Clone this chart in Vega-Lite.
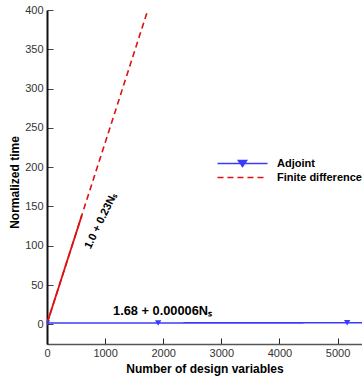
{
  "$schema": "https://vega.github.io/schema/vega-lite/v6.json",
  "width": 315,
  "height": 334,
  "autosize": {"type": "none"},
  "padding": {"left": 47, "top": 10, "right": 0, "bottom": 32},
  "background": "white",
  "config": {
    "view": {"stroke": null},
    "font": "Liberation Sans",
    "axis": {"grid": false}
  },
  "datasets": {
    "timing": [
      {"N": 0, "time": 1.68, "method": "Adjoint"},
      {"N": 1913, "time": 1.79, "method": "Adjoint"},
      {"N": 5165, "time": 1.99, "method": "Adjoint"},
      {"N": 5800, "time": 2.03, "method": "Adjoint"},
      {"N": 0, "time": 1.0, "method": "Finite difference"},
      {"N": 50, "time": 12.5, "method": "Finite difference"},
      {"N": 100, "time": 24.0, "method": "Finite difference"},
      {"N": 200, "time": 47.0, "method": "Finite difference"},
      {"N": 300, "time": 70.0, "method": "Finite difference"},
      {"N": 400, "time": 93.0, "method": "Finite difference"},
      {"N": 500, "time": 116.0, "method": "Finite difference"},
      {"N": 600, "time": 139.0, "method": "Finite difference"},
      {"N": 800, "time": 185.0, "method": "Finite difference"},
      {"N": 1000, "time": 231.0, "method": "Finite difference"},
      {"N": 1200, "time": 277.0, "method": "Finite difference"},
      {"N": 1400, "time": 323.0, "method": "Finite difference"},
      {"N": 1600, "time": 369.0, "method": "Finite difference"},
      {"N": 1720, "time": 396.6, "method": "Finite difference"}
    ],
    "fits": [
      {"N": 1136, "time": 16.5, "label": "1.68 + 0.00006Nₛ", "angle": 0},
      {"N": 700, "time": 97, "label": "1.0 + 0.23Nₛ", "angle": -64}
    ]
  },
  "encoding": {
    "x": {
      "field": "N",
      "type": "quantitative",
      "scale": {"domain": [0, 5420], "nice": false, "zero": false},
      "axis": {
        "title": "Number of design variables",
        "titleFont": "Liberation Sans",
        "titleFontSize": 12,
        "titleFontWeight": "bold",
        "titleColor": "#000000",
        "titlePadding": 5,
        "values": [0, 1000, 2000, 3000, 4000, 5000],
        "format": "d",
        "labelFontSize": 11,
        "labelColor": "#333333",
        "labelPadding": 9,
        "labelFlush": false,
        "tickSize": -6,
        "tickColor": "#222222",
        "domainColor": "#555555",
        "domainWidth": 1.5
      }
    },
    "y": {
      "field": "time",
      "type": "quantitative",
      "scale": {"domain": [-25, 400], "nice": false, "zero": false},
      "axis": {
        "title": "Normalized time",
        "titleFont": "Liberation Sans",
        "titleFontSize": 12,
        "titleFontWeight": "bold",
        "titleColor": "#000000",
        "titlePadding": 3,
        "titleY": 172,
        "values": [0, 50, 100, 150, 200, 250, 300, 350, 400],
        "labelFontSize": 11,
        "labelColor": "#333333",
        "labelPadding": 10,
        "tickSize": -6,
        "tickColor": "#444444",
        "domainColor": "#111111",
        "domainWidth": 2
      }
    }
  },
  "layer": [
    {
      "data": {"name": "timing"},
      "mark": {"type": "line", "strokeWidth": 1.6, "clip": true},
      "encoding": {
        "color": {
          "field": "method",
          "type": "nominal",
          "scale": {"domain": ["Adjoint", "Finite difference"], "range": ["#3a3aff", "#dd1111"]},
          "legend": {
            "title": null,
            "orient": "none",
            "legendX": 188,
            "legendY": 146,
            "symbolSize": 169,
            "symbolStrokeWidth": 1.6,
            "labelFont": "Liberation Sans",
            "labelFontSize": 11,
            "labelFontWeight": "bold",
            "labelColor": "#000000",
            "labelOffset": 27,
            "rowPadding": 0,
            "encode": {
              "symbols": {
                "update": {
                  "shape": {"signal": "datum.value === 'Adjoint' ? 'M-3.85,0L3.85,0M-0.62,-0.45L0.62,-0.45L0,0.45Z' : 'M-3.85,0L3.85,0'"},
                  "fill": {"signal": "datum.value === 'Adjoint' ? '#3a3aff' : 'transparent'"},
                  "strokeDash": {"signal": "datum.value === 'Adjoint' ? [1, 0] : [8, 6]"}
                }
              }
            }
          }
        },
        "strokeDash": {
          "field": "method",
          "type": "nominal",
          "scale": {"domain": ["Adjoint", "Finite difference"], "range": [[1, 0], [6, 4]]},
          "legend": null
        }
      }
    },
    {
      "data": {"name": "timing"},
      "transform": [{"filter": "datum.method === 'Finite difference' && datum.N <= 600"}],
      "mark": {"type": "line", "strokeWidth": 1.8, "color": "#dd1111"},
      "encoding": {}
    },
    {
      "data": {"name": "timing"},
      "transform": [{"filter": "datum.method === 'Adjoint'"}],
      "mark": {"type": "point", "shape": "triangle-down", "filled": true, "size": 40, "color": "#3a3aff", "opacity": 1, "clip": true},
      "encoding": {}
    },
    {
      "data": {"name": "fits"},
      "transform": [{"filter": "datum.angle === 0"}],
      "mark": {"type": "text", "font": "Liberation Sans", "fontSize": 12.8, "fontWeight": "bold", "color": "#000000", "align": "left", "baseline": "middle"},
      "encoding": {
        "text": {"field": "label"}
      }
    },
    {
      "data": {"name": "fits"},
      "transform": [{"filter": "datum.angle !== 0"}],
      "mark": {"type": "text", "font": "Liberation Sans", "fontSize": 11, "fontWeight": "bold", "color": "#000000", "align": "left", "baseline": "middle"},
      "encoding": {
        "text": {"field": "label"},
        "angle": {"field": "angle", "type": "quantitative", "scale": null}
      }
    }
  ]
}
